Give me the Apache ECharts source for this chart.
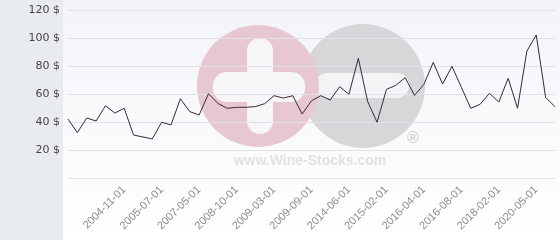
<!DOCTYPE html>
<html>
<head>
<meta charset="utf-8">
<script src="https://cdn.jsdelivr.net/npm/echarts@6/dist/echarts.min.js"></script>
<style>html,body{margin:0;padding:0;background:#fff}#c{width:560px;height:240px}</style>
</head>
<body>
<div id="c"></div>
<script>
var categories = [
  '2003-05-01','2003-07-01','2003-09-01','2003-12-01','2004-03-01','2004-07-01',
  '2004-11-01','2005-01-01','2005-03-01','2005-05-01',
  '2005-07-01','2005-12-01','2006-05-01','2006-11-01',
  '2007-05-01','2007-09-01','2008-01-01','2008-06-01',
  '2008-10-01','2008-11-01','2008-12-01','2009-01-01',
  '2009-03-01','2009-04-01','2009-06-01','2009-07-01',
  '2009-09-01','2010-11-01','2012-01-01','2013-03-01',
  '2014-06-01','2014-08-01','2014-10-01','2014-12-01',
  '2015-02-01','2015-06-01','2015-10-01','2016-01-01',
  '2016-04-01','2016-05-01','2016-06-01','2016-07-01',
  '2016-08-01','2016-12-01','2017-04-01','2017-09-01',
  '2018-02-01','2018-09-01','2019-04-01','2019-10-01',
  '2020-05-01','2020-09-01','2021-01-01'
];
var prices = [
  42.1, 32.4, 42.9, 40.7, 51.6, 46.4,
  49.8, 30.7, 29.3, 27.9,
  39.8, 37.9, 56.6, 47.4,
  45.0, 60.2, 53.3, 49.8,
  50.5, 50.5, 51.0, 53.1,
  58.8, 57.1, 58.8, 45.7,
  55.2, 58.8, 55.7, 65.2,
  59.8, 85.5, 54.5, 39.8,
  63.3, 66.2, 71.7, 59.0,
  66.9, 82.6, 67.1, 79.8,
  64.8, 49.8, 52.6, 60.5,
  54.3, 71.2, 49.8, 90.7,
  102.1, 57.6, 50.9
];
var shownLabels = [
  '2004-11-01','2005-07-01','2007-05-01','2008-10-01','2009-03-01','2009-09-01',
  '2014-06-01','2015-02-01','2016-04-01','2016-08-01','2018-02-01','2020-05-01'
];
var yTicks = [0, 20, 40, 60, 80, 100, 120];
var currency = ' $';

var chart = echarts.init(document.getElementById('c'), null, {renderer: 'canvas'});
chart.setOption({
  animation: false,
  backgroundColor: '#ffffff',
  graphic: [
    {type: 'rect', z: -20, shape: {x: 0, y: 0, width: 63, height: 240}, style: {fill: '#e8ecef'}},
    {type: 'rect', z: -20, shape: {x: 63, y: 0, width: 497, height: 240},
      style: {fill: new echarts.graphic.LinearGradient(0, 0, 0, 1, [
        {offset: 0, color: '#f3f4f8'}, {offset: 1, color: '#ffffff'}])}},
    {type: 'circle', z: -10, shape: {cx: 363, cy: 86, r: 62}, style: {fill: '#d7d7d9'}},
    {type: 'rect', z: -9, shape: {x: 315, y: 73, width: 94, height: 25, r: 12}, style: {fill: '#f4f4f7'}},
    {type: 'circle', z: -8, shape: {cx: 258, cy: 86, r: 61}, style: {fill: '#e7c8d2'}},
    {type: 'rect', z: -7, shape: {x: 213, y: 72, width: 92, height: 30, r: 14}, style: {fill: '#f6f6f8'}},
    {type: 'rect', z: -7, shape: {x: 247, y: 38, width: 26, height: 96, r: 13}, style: {fill: '#f6f6f8'}},
    {type: 'text', z: -7, style: {text: '®', x: 413, y: 139, fill: '#d0d0d2', font: 'bold 16px "Liberation Sans"', textAlign: 'center', textVerticalAlign: 'middle'}},
    {type: 'text', z: -7, style: {text: 'www.Wine-Stocks.com', x: 310, y: 161, fill: '#e1e1e4', font: 'bold 14px "Liberation Sans"', textAlign: 'center', textVerticalAlign: 'middle'}}
  ],
  grid: {left: 68, right: 5, top: 10, bottom: 62, containLabel: false},
  xAxis: {
    type: 'category',
    data: categories,
    boundaryGap: false,
    axisLine: {show: false},
    axisTick: {show: false},
    splitLine: {show: false},
    axisLabel: {
      rotate: 45,
      margin: 10,
      color: '#8c8c8c',
      fontSize: 11,
      fontFamily: 'Liberation Sans',
      interval: function (i, v) { return shownLabels.indexOf(v) >= 0; }
    }
  },
  yAxis: {
    type: 'value',
    min: yTicks[0],
    max: yTicks[yTicks.length - 1],
    interval: 20,
    axisLine: {show: false},
    axisTick: {show: false},
    splitLine: {lineStyle: {color: '#e2e2e6', width: 1}},
    axisLabel: {
      margin: 8,
      color: '#444',
      fontSize: 11,
      fontFamily: 'DejaVu Sans',
      formatter: function (v) { return v === 0 ? '' : v + currency; }
    }
  },
  series: [{
    type: 'line',
    data: prices,
    symbol: 'none',
    lineStyle: {color: '#3b2834', width: 1},
    z: 5
  }]
});
</script>
</body>
</html>
